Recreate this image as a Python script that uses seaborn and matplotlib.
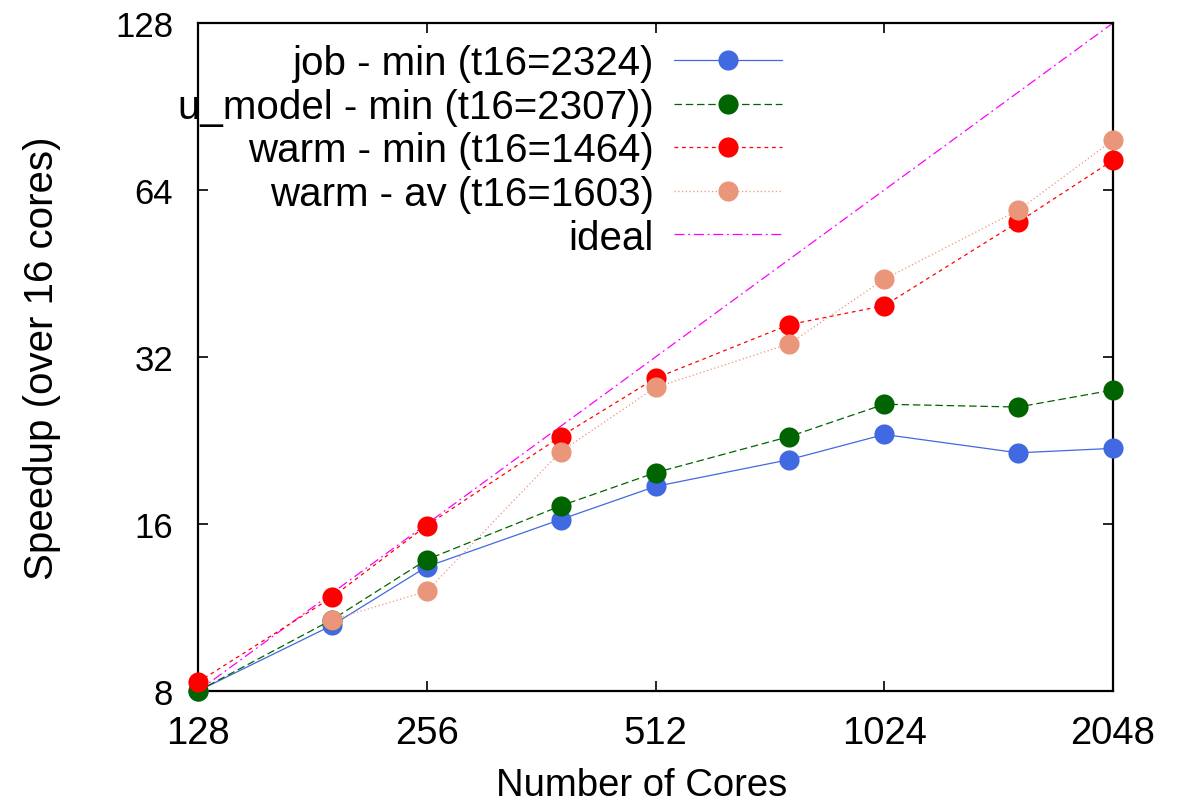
import matplotlib
matplotlib.use("Agg")
import matplotlib.pyplot as plt
import seaborn as sns
import pandas as pd
import numpy as np
from matplotlib.ticker import FixedLocator, FixedFormatter, NullLocator

sns.set_theme(style="white")
plt.rcParams['font.family'] = ['Liberation Sans', 'DejaVu Sans']

cores = [128, 192, 256, 384, 512, 768, 1024, 1536, 2048]
job_min = [8.0, 10.5, 13.4, 16.3, 18.7, 20.9, 23.2, 21.5, 21.9]
u_model_min = [8.0, 10.75, 13.8, 17.25, 19.8, 23.0, 26.3, 26.0, 27.9]
warm_min = [8.3, 11.8, 15.9, 23.0, 29.3, 36.6, 39.6, 56.0, 72.4]
warm_av = [np.nan, 10.75, 12.1, 21.6, 28.2, 33.8, 44.2, 58.8, 78.7]
ideal_x = [128, 2048]
ideal_y = [8, 128]

labels = ["job - min (t16=2324)", "u_model - min (t16=2307))",
          "warm - min (t16=1464)", "warm - av (t16=1603)", "ideal"]
colors = ["#4169E1", "#006400", "#FF0000", "#E9967A", "#FF00FF"]
styles = ["-", (0, (6, 3)), (0, (3, 3)), (0, (1, 2)), (0, (8, 3, 1.5, 3))]

fig = plt.figure(figsize=(11.81, 8.12), dpi=100)
ax = fig.add_axes([198/1181, 1 - 692/812, (1113-198)/1181, (692-24)/812])

series = [job_min, u_model_min, warm_min, warm_av]
for vals, lab, col, ls in zip(series, labels[:4], colors[:4], styles[:4]):
    df = pd.DataFrame({"cores": cores, "speedup": vals}).dropna()
    sns.lineplot(data=df, x="cores", y="speedup", ax=ax, color=col,
                 linestyle=ls, linewidth=0.9, marker="o", markersize=14.5,
                 markeredgewidth=0, label=lab, clip_on=False, zorder=3)

dfi = pd.DataFrame({"cores": ideal_x, "speedup": ideal_y})
sns.lineplot(data=dfi, x="cores", y="speedup", ax=ax, color=colors[4],
             linestyle=styles[4], linewidth=0.9, label=labels[4], zorder=2)

ax.set_xscale("log", base=2)
ax.set_yscale("log", base=2)
ax.set_xlim(128, 2048)
ax.set_ylim(8, 128)

xt = [128, 256, 512, 1024, 2048]
yt = [8, 16, 32, 64, 128]
ax.xaxis.set_major_locator(FixedLocator(xt))
ax.xaxis.set_major_formatter(FixedFormatter([str(v) for v in xt]))
ax.xaxis.set_minor_locator(NullLocator())
ax.yaxis.set_major_locator(FixedLocator(yt))
ax.yaxis.set_major_formatter(FixedFormatter([str(v) for v in yt]))
ax.yaxis.set_minor_locator(NullLocator())

ax.tick_params(axis="both", which="major", direction="in", length=7, width=1.2,
               color="black", top=True, right=True, bottom=True, left=True)
ax.tick_params(axis="x", labelsize=27.5, pad=17)
ax.tick_params(axis="y", labelsize=25, pad=18)
for lab in ax.get_xticklabels() + ax.get_yticklabels():
    lab.set_color("black")

for sp in ax.spines.values():
    sp.set_visible(True)
    sp.set_color("black")
    sp.set_linewidth(1.6)

ax.set_xlabel("Number of Cores", fontsize=27.5, color="black")
ax.xaxis.set_label_coords((642 - 198) / 915, (692 - 768) / 668)
ax.set_ylabel("Speedup (over 16 cores)", fontsize=29, color="black")
ax.yaxis.set_label_coords((61 - 198) / 915, 0.5)
ax.grid(False)

leg = ax.legend(loc="upper right", bbox_to_anchor=((782 - 198) / 915, (692 - 45) / 668),
                frameon=False, fontsize=29, markerfirst=False, alignment="right",
                handlelength=2.68, handletextpad=0.5, labelspacing=0.14,
                borderaxespad=0, borderpad=0)
for t in leg.get_texts():
    t.set_color("black")

fig.savefig("out.png", dpi=100, facecolor="white")
